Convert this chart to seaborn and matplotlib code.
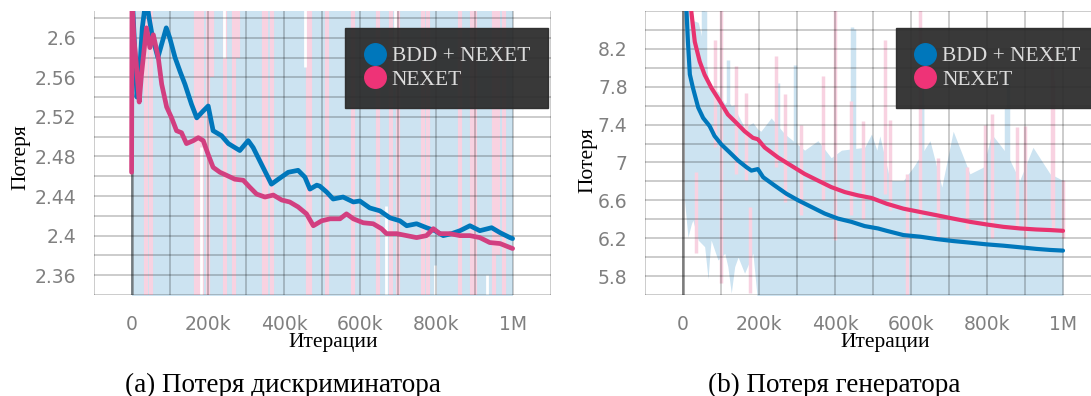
import numpy as np
import pandas as pd
import matplotlib
matplotlib.use("Agg")
import matplotlib.pyplot as plt
import seaborn as sns
from matplotlib.lines import Line2D
from matplotlib.font_manager import FontProperties

# ---------------- data (x in thousands of iterations) ----------------
# (a) discriminator loss, smoothed curves
disc_bdd_x = [2, 8, 14, 20, 28, 38, 46, 55, 69, 80, 91, 100, 114, 128, 140, 157, 171, 188, 201, 214,
              236, 254, 271, 284, 306, 319, 341, 367, 385, 411, 437, 455, 468, 486, 494, 512, 529,
              555, 582, 599, 625, 652, 678, 704, 722, 748, 774, 796, 818, 840, 862, 888, 914, 945,
              967, 993, 1000]
disc_bdd_y = [2.64, 2.59, 2.54, 2.56, 2.61, 2.64, 2.62, 2.60, 2.58, 2.595, 2.61, 2.60, 2.58, 2.565,
              2.553, 2.533, 2.519, 2.526, 2.531, 2.506, 2.501, 2.493, 2.489, 2.486, 2.496, 2.489,
              2.472, 2.452, 2.457, 2.464, 2.466, 2.459, 2.447, 2.451, 2.450, 2.444, 2.437, 2.439,
              2.434, 2.435, 2.428, 2.425, 2.418, 2.415, 2.410, 2.412, 2.408, 2.405, 2.400, 2.402,
              2.405, 2.410, 2.405, 2.408, 2.403, 2.398, 2.397]
disc_nexet_x = [0, 1, 6, 12, 20, 26, 39, 48, 57, 70, 79, 92, 105, 118, 131, 144, 162, 175, 188, 201,
                214, 232, 249, 271, 293, 310, 328, 350, 372, 394, 415, 437, 459, 477, 499, 521,
                547, 564, 582, 608, 634, 656, 669, 696, 722, 748, 774, 792, 809, 835, 862, 888,
                914, 940, 967, 993, 1000]
disc_nexet_y = [2.464, 2.64, 2.60, 2.575, 2.535, 2.563, 2.61, 2.59, 2.603, 2.58, 2.553, 2.530, 2.519,
                2.506, 2.504, 2.493, 2.496, 2.499, 2.496, 2.482, 2.469, 2.464, 2.461, 2.457, 2.456,
                2.449, 2.442, 2.439, 2.441, 2.436, 2.434, 2.429, 2.422, 2.410, 2.415, 2.417, 2.417,
                2.422, 2.417, 2.413, 2.412, 2.407, 2.402, 2.402, 2.400, 2.398, 2.400, 2.407, 2.402,
                2.402, 2.400, 2.400, 2.398, 2.393, 2.392, 2.388, 2.387]
# (a) raw (unsmoothed) background
disc_raw_x = [0, 1000]
disc_raw_lo = [2.30, 2.30]
disc_raw_hi = [2.70, 2.70]
disc_pink_x = [38, 50, 168, 175, 184, 200, 212, 246, 270, 279, 347, 352, 369, 463, 467, 512, 581,
               647, 682, 699, 764, 779, 862, 893, 901, 952, 962, 977]
disc_pink_lo = [2.30, 2.30, 2.30, 2.30, 2.30, 2.30, 2.56, 2.30, 2.30, 2.58, 2.30, 2.30, 2.30, 2.30,
                2.30, 2.30, 2.30, 2.30, 2.30, 2.30, 2.30, 2.30, 2.30, 2.30, 2.30, 2.30, 2.38, 2.30]
disc_pink_hi = [2.70] * 28
disc_gap_x = [182, 242, 455, 669, 691, 796, 934]
disc_gap_lo = [2.30, 2.58, 2.57, 2.30, 2.56, 2.30, 2.30]
disc_gap_hi = [2.49, 2.70, 2.70, 2.43, 2.70, 2.37, 2.36]

# (b) generator loss, smoothed curves
gen_bdd_x = [8, 13, 18, 26, 40, 53, 70, 83, 101, 123, 145, 167, 180, 197, 211, 241, 272, 303, 338,
             373, 408, 443, 478, 513, 536, 580, 624, 667, 711, 755, 799, 843, 887, 930, 966, 1000]
gen_bdd_y = [8.70, 8.275, 7.93, 7.79, 7.58, 7.47, 7.385, 7.28, 7.19, 7.106, 7.02, 6.95, 6.914, 6.93,
             6.844, 6.757, 6.67, 6.60, 6.53, 6.46, 6.407, 6.373, 6.328, 6.303, 6.278, 6.233, 6.216,
             6.191, 6.17, 6.153, 6.135, 6.121, 6.104, 6.087, 6.076, 6.069]
gen_nexet_x = [20, 22, 31, 44, 57, 75, 97, 118, 140, 162, 184, 197, 215, 250, 285, 320, 355, 390,
               426, 461, 496, 536, 580, 624, 667, 711, 755, 799, 843, 887, 930, 966, 1000]
gen_nexet_y = [8.70, 8.59, 8.275, 8.066, 7.926, 7.786, 7.647, 7.507, 7.42, 7.33, 7.26, 7.245, 7.158,
               7.053, 6.966, 6.879, 6.809, 6.74, 6.687, 6.652, 6.625, 6.564, 6.512, 6.477, 6.443,
               6.407, 6.373, 6.345, 6.32, 6.303, 6.292, 6.286, 6.278]
# (b) raw (unsmoothed) background
gen_raw_x = [0, 4, 13, 22, 26, 40, 57, 66, 70, 74, 92, 110, 118, 127, 136, 145, 162, 184, 197, 205,
             232, 268, 320, 355, 390, 417, 478, 496, 510, 518, 545, 580, 606, 650, 681, 711, 755,
             790, 812, 851, 886, 921, 966, 1000]
gen_raw_hi = [8.70, 8.70, 8.60, 8.52, 8.50, 8.48, 8.20, 7.90, 7.80, 7.78, 7.75, 7.62, 7.65, 7.60,
              7.61, 7.50, 7.37, 7.42, 7.35, 7.33, 7.47, 7.30, 7.13, 7.23, 7.05, 7.13, 7.16, 7.30,
              7.13, 7.28, 6.81, 6.81, 6.95, 7.23, 6.74, 7.33, 6.88, 6.95, 7.30, 7.10, 6.81, 7.16,
              6.88, 6.81]
gen_raw_lo = [6.60, 6.60, 6.21, 6.35, 6.39, 6.18, 6.11, 5.77, 6.00, 6.18, 5.97, 6.04, 5.90, 5.62,
              5.90, 6.00, 5.83, 6.04, 5.50, 5.50, 5.50, 5.50, 5.50, 5.50, 5.50, 5.50, 5.50, 5.50,
              5.50, 5.50, 5.50, 5.50, 5.50, 5.50, 5.50, 5.50, 5.50, 5.50, 5.50, 5.50, 5.50, 5.50,
              5.50, 5.50]
gen_bspike_x = [53, 57, 118, 250, 294, 446, 449, 628, 629, 851, 855]
gen_bspike_lo = [6.6] * 11
gen_bspike_hi = [8.70, 8.60, 8.08, 7.84, 8.03, 8.43, 8.41, 7.61, 8.08, 7.58, 7.90]
gen_pspike_x = [35, 83, 101, 140, 167, 175, 246, 268, 311, 368, 399, 443, 474, 532, 545, 589, 624,
                672, 747, 795, 812, 878, 901, 970, 973, 1000]
gen_pspike_lo = [6.04, 7.16, 5.73, 6.88, 6.81, 5.62, 6.95, 6.58, 6.45, 6.60, 6.18, 6.45, 6.40, 6.67,
                 6.50, 5.60, 6.40, 6.20, 6.30, 6.35, 6.20, 6.30, 6.20, 6.40, 6.30, 6.20]
gen_pspike_hi = [6.90, 8.29, 8.70, 8.02, 7.73, 6.53, 8.12, 7.72, 7.40, 7.91, 8.70, 7.65, 7.44, 8.29,
                 7.45, 6.88, 8.70, 7.05, 6.95, 7.40, 7.51, 7.37, 7.38, 8.25, 7.87, 6.81]

# ticks / labels
x_tick_pos = list(range(-100, 1101, 100))
x_tick_lab = {0: "0", 200: "200k", 400: "400k", 600: "600k", 800: "800k", 1000: "1M"}
disc_ytick_pos = [round(2.34 + 0.02 * i, 2) for i in range(15)]
disc_ytick_lab = {2.36: "2.36", 2.4: "2.4", 2.44: "2.44", 2.48: "2.48", 2.52: "2.52",
                  2.56: "2.56", 2.6: "2.6"}
gen_ytick_pos = [round(5.6 + 0.2 * i, 1) for i in range(16)]
gen_ytick_lab = {5.8: "5.8", 6.2: "6.2", 6.6: "6.6", 7.0: "7", 7.4: "7.4", 7.8: "7.8", 8.2: "8.2"}

series_names = ["BDD + NEXET", "NEXET"]
c_blue = "#0077BB"
c_pink = "#EE3377"
c_raw_blue = "#cce3f1"
c_raw_pink = "#f8d2e1"

# ---------------- figure ----------------
sns.set_theme(style="white")
plt.rcParams["font.family"] = ["DejaVu Sans"]
W, H = 1091, 396
fig = plt.figure(figsize=(W / 100, H / 100), dpi=100)


def px_axes(x0, x1, ytop, ybot):
    return fig.add_axes([x0 / W, 1 - ybot / H, (x1 - x0) / W, (ybot - ytop) / H])


axL = px_axes(93.5, 550.7, 11, 295)
axR = px_axes(645, 1101, 11, 295)

serif = "Liberation Serif"


def style(ax, ylim, ypos, ylab):
    ax.set_xlim(-100, 1100)
    ax.set_ylim(*ylim)
    ax.set_xticks(x_tick_pos, [x_tick_lab.get(v, "") for v in x_tick_pos])
    ax.set_yticks(ypos, [ylab.get(v, "") for v in ypos])
    for s in ax.spines.values():
        s.set_visible(False)
    ax.grid(True, color="#000000", alpha=0.2, lw=1.4)
    ax.set_axisbelow(False)
    ax.tick_params(axis="both", length=6.5, width=1.4, color="#c6c6c6",
                   labelcolor="#808080", labelsize=13.5)
    ax.tick_params(axis="y", pad=6)
    ax.tick_params(axis="x", pad=8)
    ax.set_facecolor("white")
    ax.set_xlabel("")
    ax.set_ylabel("")


# ---- (a) discriminator ----
axL.fill_between(disc_raw_x, disc_raw_lo, disc_raw_hi, color=c_raw_blue, lw=0, zorder=1)
axL.vlines(disc_pink_x, disc_pink_lo, disc_pink_hi, color=c_raw_pink, lw=3, zorder=1.2)
axL.vlines(disc_gap_x, disc_gap_lo, disc_gap_hi, color="white", lw=2, zorder=1.3)
axL.vlines([0], [2.30], [disc_nexet_y[0]], color="#8f9aa0", lw=2, zorder=1.4)
df_a = pd.concat([
    pd.DataFrame({"it": disc_bdd_x, "loss": disc_bdd_y, "run": series_names[0]}),
    pd.DataFrame({"it": disc_nexet_x, "loss": disc_nexet_y, "run": series_names[1]}),
])
sns.lineplot(data=df_a, x="it", y="loss", hue="run", palette=[c_blue, "#d23f80"],
             lw=3.4, ax=axL, legend=False, zorder=3, sort=False, estimator=None)
style(axL, (2.34, 2.627), disc_ytick_pos, disc_ytick_lab)

# ---- (b) generator ----
axR.fill_between(gen_raw_x, gen_raw_lo, gen_raw_hi, color=c_raw_blue, lw=0, zorder=1)
axR.vlines(gen_bspike_x, gen_bspike_lo, gen_bspike_hi, color=c_raw_blue, lw=2.5, zorder=1.1)
axR.vlines(gen_pspike_x, gen_pspike_lo, gen_pspike_hi, color=c_raw_pink, lw=2.5, zorder=1.2)
axR.vlines([0], [5.5], [8.7], color="#9a9a9a", lw=2, zorder=1.4)
df_b = pd.concat([
    pd.DataFrame({"it": gen_bdd_x, "loss": gen_bdd_y, "run": series_names[0]}),
    pd.DataFrame({"it": gen_nexet_x, "loss": gen_nexet_y, "run": series_names[1]}),
])
sns.lineplot(data=df_b, x="it", y="loss", hue="run", palette=[c_blue, "#e8336f"],
             lw=3.0, ax=axR, legend=False, zorder=3, sort=False, estimator=None)
style(axR, (5.6, 8.6), gen_ytick_pos, gen_ytick_lab)

# ---- legends ----
for ax in (axL, axR):
    handles = [Line2D([], [], ls="", marker="o", markersize=15.5, color=c)
               for c in (c_blue, c_pink)]
    leg = ax.legend(handles, series_names, loc="upper right", bbox_to_anchor=(0.995, 0.94),
                    borderaxespad=0, frameon=True, fancybox=False, facecolor="#2a2a2a",
                    edgecolor="#2a2a2a", framealpha=0.93,
                    prop=FontProperties(family=serif, size=15.5), labelcolor="#dcdcdc",
                    handlelength=1.0, handletextpad=0.3, labelspacing=0.15, borderpad=0.85)
    leg.set_zorder(10)

# ---- axis labels & captions ----
def ftext(x, y, s, **kw):
    fig.text(x / W, 1 - y / H, s, ha="center", va="center", family=serif, color="black", **kw)


ftext(21, 157, "Потеря", rotation=90, fontsize=15.5)
ftext(588, 160, "Потеря", rotation=90, fontsize=15.5)
ftext(333, 343, "Итерации", fontsize=15.5)
ftext(885, 343, "Итерации", fontsize=15.5)
ftext(283, 385, "(a) Потеря дискриминатора", fontsize=19.5)
ftext(834, 385, "(b) Потеря генератора", fontsize=19.5)

fig.savefig("out.png", dpi=100)
